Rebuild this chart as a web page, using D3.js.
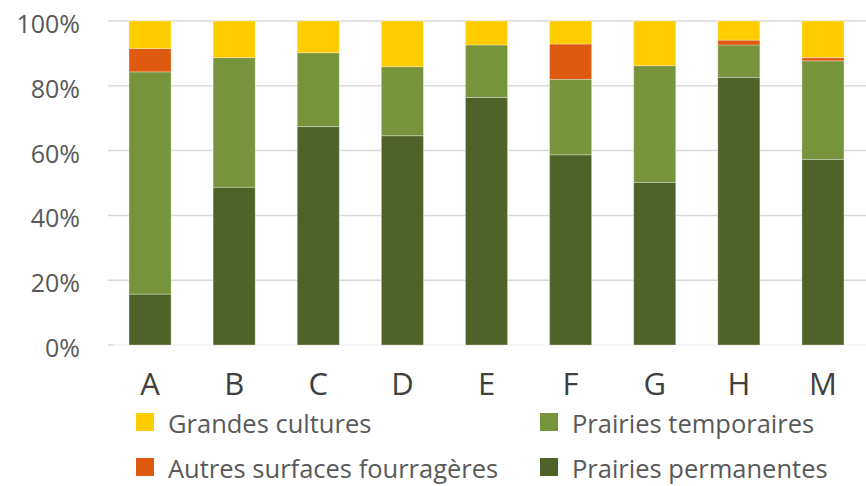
<!DOCTYPE html>
<html>
<head>
<meta charset="utf-8">
<script src="https://cdn.jsdelivr.net/npm/d3@7"></script>
<style>
    body { margin: 0; background: #fff; }
    svg { display: block; font-family: "Open Sans", sans-serif; }
    .tick-label { fill: #595959; font-size: 25px; }
    .cat-label { fill: #404040; font-size: 31px; }
    .legend-label { fill: #595959; font-size: 25.5px; }
</style>
</head>
<body>
<div id="chart"></div>
<script>
// categories and series (percent of surface)
const categories = ['A', 'B', 'C', 'D', 'E', 'F', 'G', 'H', 'M'];
const permanentes = [15.7, 48.7, 67.4, 64.6, 76.4, 58.7, 50.2, 82.6, 57.3];
const temporaires = [68.6, 40.0, 22.8, 21.3, 16.2, 23.3, 36.0, 10.0, 30.4];
const autres = [7.2, 0, 0, 0, 0, 10.9, 0, 1.5, 1.0];
const grandes = [8.5, 11.3, 9.8, 14.1, 7.4, 7.1, 13.8, 5.9, 11.3];
const yTicks = [0, 20, 40, 60, 80, 100];

// series in stacking order, bottom to top
const seriesNames = ['Prairies permanentes', 'Prairies temporaires', 'Autres surfaces fourragères', 'Grandes cultures'];
const seriesValues = [permanentes, temporaires, autres, grandes];
const colors = ['#4f6228', '#77933c', '#dd5a10', '#ffcc00'];

let width = 866, height = 486,
    margin = {top: 21, left: 108, right: 1, bottom: 141};

// build rows for d3.stack
let rows = categories.map((c, i) => {
    let r = {cat: c};
    seriesNames.forEach((s, j) => r[s] = seriesValues[j][i]);
    return r;
});
let stacked = d3.stack().keys(seriesNames)(rows);

let xScale = d3.scaleBand()
        .domain(categories)
        .range([margin.left, width - margin.right])
        .paddingInner(0.5)
        .paddingOuter(0.25),

    yScale = d3.scaleLinear()
        .domain([0, 100])
        .range([height - margin.bottom, margin.top]),

    svg = d3.select('#chart')
        .append('svg')
        .attr('width', width)
        .attr('height', height);

// gridlines
svg.append('g')
    .selectAll('line')
    .data(yTicks.filter(t => t > 0))
    .join('line')
    .attr('x1', margin.left)
    .attr('x2', width)
    .attr('y1', d => yScale(d))
    .attr('y2', d => yScale(d))
    .attr('stroke', '#d9d9d9')
    .attr('stroke-width', 1.5);

// baseline (very light) with a small tick at the start
svg.append('line')
    .attr('x1', margin.left).attr('x2', width)
    .attr('y1', yScale(0)).attr('y2', yScale(0))
    .attr('stroke', '#f2f2f2').attr('stroke-width', 1.5);
svg.append('line')
    .attr('x1', margin.left).attr('x2', margin.left + 5)
    .attr('y1', yScale(0)).attr('y2', yScale(0))
    .attr('stroke', '#d9d9d9').attr('stroke-width', 1.5);

// y tick labels
svg.append('g')
    .selectAll('text')
    .data(yTicks)
    .join('text')
    .classed('tick-label', true)
    .attr('x', 80)
    .attr('y', d => yScale(d) + 2)
    .attr('text-anchor', 'end')
    .attr('dominant-baseline', 'central')
    .text(d => d + '%');

// stacked bars
svg.append('g')
    .selectAll('g')
    .data(stacked)
    .join('g')
    .attr('fill', (d, i) => colors[i])
    .selectAll('rect')
    .data(d => d.filter(p => p[1] - p[0] > 0))
    .join('rect')
    .attr('x', d => xScale(d.data.cat))
    .attr('y', d => yScale(d[1]))
    .attr('width', xScale.bandwidth())
    .attr('height', d => yScale(d[0]) - yScale(d[1]))
    .attr('stroke', '#ffffff')
    .attr('stroke-opacity', 0.3)
    .attr('stroke-width', 1);

// category labels
svg.append('g')
    .selectAll('text')
    .data(categories)
    .join('text')
    .classed('cat-label', true)
    .attr('x', d => xScale(d) + xScale.bandwidth() / 2)
    .attr('y', 383)
    .attr('text-anchor', 'middle')
    .attr('dominant-baseline', 'central')
    .text(d => d);

// legend, 2x2 in the original order
let legendItems = [
    {name: 'Grandes cultures', color: colors[3], x: 136, y: 422},
    {name: 'Prairies temporaires', color: colors[1], x: 540, y: 422},
    {name: 'Autres surfaces fourragères', color: colors[2], x: 136, y: 467},
    {name: 'Prairies permanentes', color: colors[0], x: 540, y: 467}
];
let legend = svg.append('g')
    .selectAll('g')
    .data(legendItems)
    .join('g')
    .attr('transform', d => `translate(${d.x},${d.y})`);
legend.append('rect')
    .attr('x', 0).attr('y', -9)
    .attr('width', 18).attr('height', 18)
    .attr('fill', d => d.color);
legend.append('text')
    .classed('legend-label', true)
    .attr('x', 32)
    .attr('y', 1)
    .attr('dominant-baseline', 'central')
    .text(d => d.name);
</script>
</body>
</html>
